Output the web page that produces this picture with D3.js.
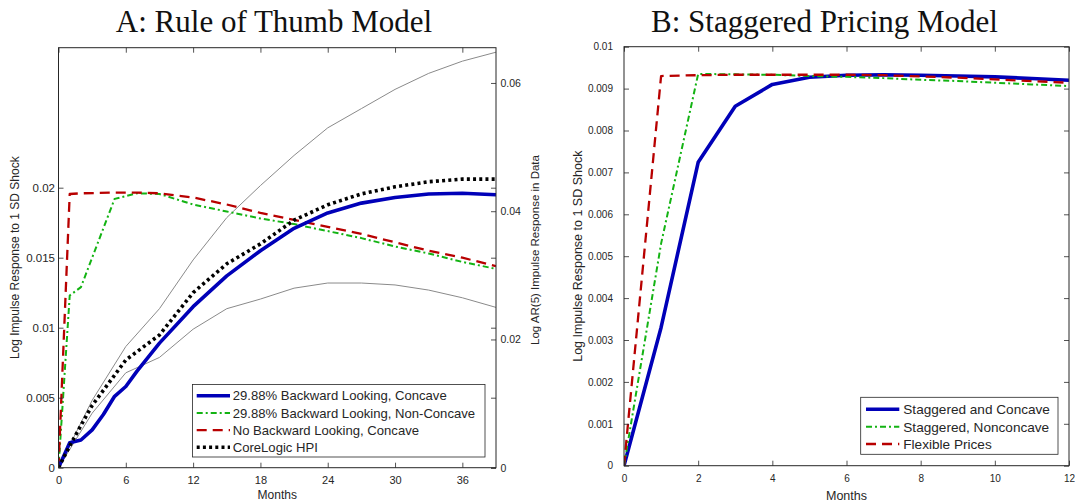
<!DOCTYPE html>
<html><head><meta charset="utf-8">
<script src="https://cdn.jsdelivr.net/npm/d3@7"></script>
<style>
html,body{margin:0;padding:0;background:#fff;}
svg{display:block;}
text{font-family:"Liberation Sans",Arial,Helvetica,sans-serif;fill:#262626;}
.title{font-family:"Liberation Serif","Times New Roman",serif;fill:#111;}
</style></head>
<body><svg id="chart" width="1075" height="501"></svg>
<script>
// ---------- Panel A data ----------
const monthsBlueA = [0,1,2,3,4,5,6,7,8,9,12,15,18,21,24,27,30,33,36,39];
const blueA = [0,0.00178,0.00198,0.0027,0.0038,0.0051,0.0058,0.0069,0.0079,0.0089,0.0115,0.0137,0.0155,0.0171,0.0182,0.0189,0.0193,0.01955,0.0196,0.0195];
const monthsGreenA = [0,1,2,5,7,9,12,15,18,21,24,27,30,33,36,39];
const greenA = [0,0.0123,0.0129,0.0192,0.0196,0.01955,0.0188,0.0183,0.0178,0.0174,0.0169,0.0164,0.0158,0.0153,0.0147,0.0142];
const monthsRedA = [0,1,2,5,7,9,12,15,18,21,24,27,30,33,36,39];
const redA = [0,0.01955,0.0196,0.01965,0.01965,0.0196,0.0193,0.0188,0.0182,0.0177,0.0172,0.0167,0.0161,0.0155,0.0150,0.0144];
const monthsHpi = [0,1,2,3,6,9,12,15,18,21,24,27,30,33,36,39];
const hpi = [0,0.0034,0.0066,0.0097,0.0168,0.0207,0.0273,0.0318,0.0349,0.0386,0.041,0.0427,0.0438,0.0446,0.045,0.045];
const monthsBand = [0,3,6,9,12,15,18,21,24,27,30,33,36,39];
const bandUpper = [0,0.0105,0.0189,0.0248,0.0324,0.0390,0.0440,0.0487,0.053,0.056,0.059,0.0615,0.0634,0.0648];
const bandLower = [0,0.0085,0.0148,0.0172,0.0216,0.0248,0.0263,0.028,0.0288,0.0288,0.0285,0.0277,0.0265,0.025];
const xTicksA = [0,6,12,18,24,30,36];
const yTicksAL = [0,0.005,0.01,0.015,0.02];
const yTicksAR = [0,0.02,0.04,0.06];
const legendA = ["29.88% Backward Looking, Concave","29.88% Backward Looking, Non-Concave","No Backward Looking, Concave","CoreLogic HPI"];

// ---------- Panel B data ----------
const monthsB = [0,1,2,3,4,5,6,7,8,9,10,11,12];
const blueB = [0,0.0033,0.00724,0.00858,0.0091,0.00927,0.00932,0.00933,0.00932,0.0093,0.00928,0.00924,0.0092];
const greenB = [0,0.0053,0.00935,0.00934,0.00933,0.0093,0.00928,0.00925,0.00921,0.00918,0.00914,0.0091,0.00906];
const redB = [0,0.0093,0.00932,0.00933,0.00933,0.00933,0.00933,0.00932,0.00929,0.00926,0.00922,0.00918,0.00914];
const xTicksB = [0,2,4,6,8,10,12];
const yTicksB = [0,0.001,0.002,0.003,0.004,0.005,0.006,0.007,0.008,0.009,0.01];
const legendB = ["Staggered and Concave","Staggered, Nonconcave","Flexible Prices"];

const svg = d3.select("#chart");
const AX = "#262626";

const styles = {
  blue:{stroke:"#0000b8",width:3.6,dash:null},
  green:{stroke:"#13b313",width:2,dash:"6,3,2,3"},
  red:{stroke:"#b80000",width:2.3,dash:"10,6"},
  dot:{stroke:"#000",width:3.6,dash:"3,3.2"},
  gray:{stroke:"#8a8a8a",width:1,dash:null}
};
function drawLine(g, xs, ys, xScale, yScale, st){
  const pts = xs.map((m,i)=>[m, ys[i]]);
  const p = g.append("path").datum(pts)
    .attr("d", d3.line().x(d=>xScale(d[0])).y(d=>yScale(d[1])))
    .attr("fill","none").attr("stroke",st.stroke).attr("stroke-width",st.width)
    .attr("stroke-linejoin","round");
  if(st.dash){ p.attr("stroke-dasharray",st.dash).attr("stroke-linecap","butt"); }
  return p;
}
function styleAxis(g, fs){
  g.select(".domain").remove();
  g.selectAll(".tick line").attr("stroke",AX).attr("stroke-width",0.8);
  g.selectAll(".tick text").attr("fill",AX).attr("font-size",fs).attr("font-family","Liberation Sans, Arial, sans-serif");
}
function fmt(d){ return String(d); }

// ================= Panel A =================
const A = {l:58.5, r:496, t:47.7, b:467.7};
const xA = d3.scaleLinear().domain([0,39]).range([A.l,A.r]);
const yAL = d3.scaleLinear().domain([0,0.03]).range([A.b,A.t]);
const yAR = d3.scaleLinear().domain([0,0.0655]).range([A.b,A.t]);

svg.append("clipPath").attr("id","clipA").append("rect")
  .attr("x",A.l).attr("y",A.t).attr("width",A.r-A.l).attr("height",A.b-A.t);
const gA = svg.append("g").attr("clip-path","url(#clipA)");
drawLine(gA, monthsBand, bandUpper, xA, yAR, styles.gray);
drawLine(gA, monthsBand, bandLower, xA, yAR, styles.gray);
drawLine(gA, monthsGreenA, greenA, xA, yAL, styles.green);
drawLine(gA, monthsRedA, redA, xA, yAL, styles.red);
drawLine(gA, monthsBlueA, blueA, xA, yAL, styles.blue);
drawLine(gA, monthsHpi, hpi, xA, yAR, styles.dot);

// axes A
let g;
g = svg.append("g").attr("transform",`translate(0,${A.b})`)
  .call(d3.axisBottom(xA).tickValues(xTicksA).tickSize(-5).tickPadding(8.5).tickFormat(fmt));
styleAxis(g, 11);
g = svg.append("g").attr("transform",`translate(0,${A.t})`)
  .call(d3.axisTop(xA).tickValues(xTicksA).tickSize(-5).tickFormat(""));
styleAxis(g, 11);
g = svg.append("g").attr("transform",`translate(${A.l},0)`)
  .call(d3.axisLeft(yAL).tickValues(yTicksAL).tickSize(-5).tickPadding(3.5).tickFormat(fmt));
styleAxis(g, 11.5);
g = svg.append("g").attr("transform",`translate(${A.r},0)`)
  .call(d3.axisRight(yAL).tickValues(yTicksAL).tickSize(-5).tickFormat(""));
styleAxis(g, 11);
g = svg.append("g").attr("transform",`translate(${A.r},0)`)
  .call(d3.axisRight(yAR).tickValues(yTicksAR).tickSize(-5).tickPadding(4.5).tickFormat(fmt));
styleAxis(g, 10.5);
svg.append("rect").attr("x",A.l).attr("y",A.t).attr("width",A.r-A.l).attr("height",A.b-A.t)
  .attr("fill","none").attr("stroke",AX).attr("stroke-width",1);

// labels A
svg.append("text").attr("class","title").attr("x",274).attr("y",31.5).attr("text-anchor","middle")
  .attr("font-size",31).text("A: Rule of Thumb Model");
svg.append("text").attr("x",(A.l+A.r)/2).attr("y",499).attr("text-anchor","middle")
  .attr("font-size",12).text("Months");
svg.append("text").attr("transform",`translate(19,${(A.t+A.b)/2}) rotate(-90)`).attr("text-anchor","middle")
  .attr("font-size",12).text("Log Impulse Response to 1 SD Shock");
svg.append("text").attr("transform",`translate(539,250) rotate(-90)`).attr("text-anchor","middle")
  .attr("font-size",11.5).text("Log AR(5) Impulse Response in Data");

// legend A
const LA = {x:192.5, y:384.5, w:292.5, h:72.5, rows:[395.7,412.9,430.1,447.3], lx0:196.7, lx1:230, tx:232.7};
svg.append("rect").attr("x",LA.x).attr("y",LA.y).attr("width",LA.w).attr("height",LA.h)
  .attr("fill","#fff").attr("stroke",AX).attr("stroke-width",0.8);
const legStA = [styles.blue, styles.green, styles.red, styles.dot];
legendA.forEach((t,i)=>{
  const st = legStA[i];
  const ln = svg.append("line").attr("x1",LA.lx0).attr("x2",LA.lx1).attr("y1",LA.rows[i]).attr("y2",LA.rows[i])
    .attr("stroke",st.stroke).attr("stroke-width",st.width);
  if(st.dash) ln.attr("stroke-dasharray",st.dash);
  svg.append("text").attr("x",LA.tx).attr("y",LA.rows[i]).attr("dy","0.36em").attr("font-size",13.1).attr("fill","#111").text(t);
});

// ================= Panel B =================
const B = {l:624, r:1069, t:46.7, b:465.7};
const xB = d3.scaleLinear().domain([0,12]).range([B.l,B.r]);
const yB = d3.scaleLinear().domain([0,0.01]).range([B.b,B.t]);
svg.append("clipPath").attr("id","clipB").append("rect")
  .attr("x",B.l).attr("y",B.t).attr("width",B.r-B.l).attr("height",B.b-B.t);
const gB = svg.append("g").attr("clip-path","url(#clipB)");
drawLine(gB, monthsB, blueB, xB, yB, styles.blue);
drawLine(gB, monthsB, greenB, xB, yB, styles.green);
drawLine(gB, monthsB, redB, xB, yB, styles.red);

g = svg.append("g").attr("transform",`translate(0,${B.b})`)
  .call(d3.axisBottom(xB).tickValues(xTicksB).tickSize(-5).tickPadding(9.5).tickFormat(fmt));
styleAxis(g, 10);
g = svg.append("g").attr("transform",`translate(0,${B.t})`)
  .call(d3.axisTop(xB).tickValues(xTicksB).tickSize(-5).tickFormat(""));
styleAxis(g, 10);
g = svg.append("g").attr("transform",`translate(${B.l},0)`)
  .call(d3.axisLeft(yB).tickValues(yTicksB).tickSize(-5).tickPadding(11).tickFormat(fmt));
styleAxis(g, 10);
g = svg.append("g").attr("transform",`translate(${B.r},0)`)
  .call(d3.axisRight(yB).tickValues(yTicksB).tickSize(-5).tickFormat(""));
styleAxis(g, 10);
svg.append("rect").attr("x",B.l).attr("y",B.t).attr("width",B.r-B.l).attr("height",B.b-B.t)
  .attr("fill","none").attr("stroke",AX).attr("stroke-width",1);

svg.append("text").attr("class","title").attr("x",824.5).attr("y",31.7).attr("text-anchor","middle")
  .attr("font-size",31).text("B: Staggered Pricing Model");
svg.append("text").attr("x",(B.l+B.r)/2).attr("y",499.5).attr("text-anchor","middle")
  .attr("font-size",12.5).text("Months");
svg.append("text").attr("transform",`translate(582,${(B.t+B.b)/2}) rotate(-90)`).attr("text-anchor","middle")
  .attr("font-size",12.5).text("Log Impulse Response to 1 SD Shock");

const LB = {x:860.7, y:397.3, w:197.3, h:57, rows:[409.3,426.7,444], lx0:866, lx1:899.3, tx:903.3};
svg.append("rect").attr("x",LB.x).attr("y",LB.y).attr("width",LB.w).attr("height",LB.h)
  .attr("fill","#fff").attr("stroke",AX).attr("stroke-width",0.8);
const legStB = [styles.blue, styles.green, styles.red];
legendB.forEach((t,i)=>{
  const st = legStB[i];
  const ln = svg.append("line").attr("x1",LB.lx0).attr("x2",LB.lx1).attr("y1",LB.rows[i]).attr("y2",LB.rows[i])
    .attr("stroke",st.stroke).attr("stroke-width",st.width);
  if(st.dash) ln.attr("stroke-dasharray",st.dash);
  svg.append("text").attr("x",LB.tx).attr("y",LB.rows[i]).attr("dy","0.36em").attr("font-size",13.6).attr("fill","#111").text(t);
});
</script></body></html>
